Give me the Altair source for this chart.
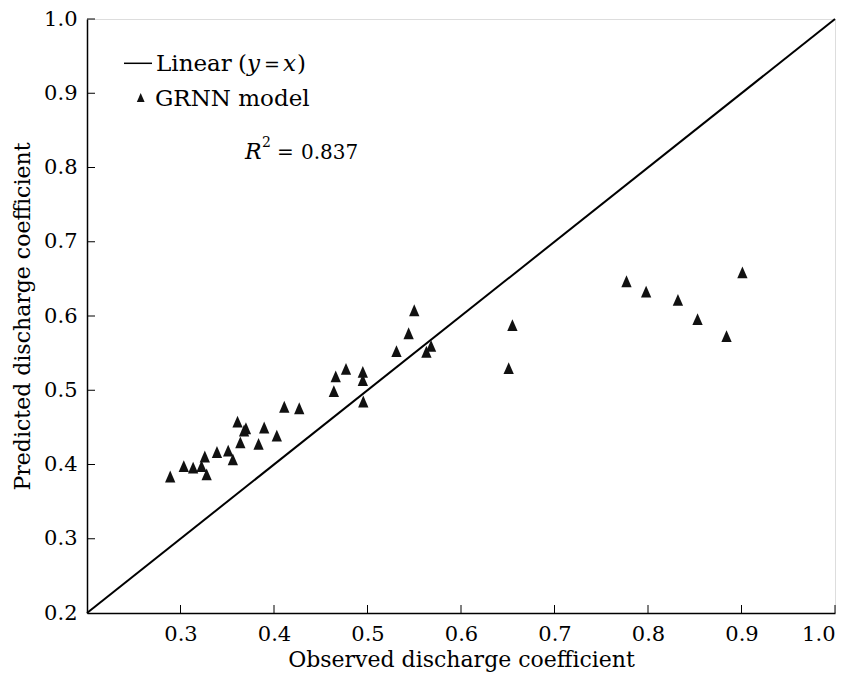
import altair as alt
import pandas as pd

SERIF = "DejaVu Serif"

observed = [0.289, 0.3035, 0.3135, 0.3225, 0.326, 0.328, 0.339, 0.351, 0.356, 0.361,
            0.364, 0.370, 0.368, 0.3835, 0.3895, 0.403, 0.411, 0.427, 0.464, 0.466,
            0.477, 0.495, 0.495, 0.4955, 0.531, 0.544, 0.550, 0.563, 0.568, 0.651,
            0.655, 0.777, 0.798, 0.832, 0.853, 0.884, 0.901]
predicted = [0.383, 0.397, 0.395, 0.397, 0.410, 0.386, 0.416, 0.418, 0.406, 0.457,
             0.429, 0.448, 0.445, 0.427, 0.449, 0.438, 0.477, 0.475, 0.498, 0.518,
             0.528, 0.524, 0.513, 0.484, 0.552, 0.576, 0.607, 0.551, 0.559, 0.529,
             0.587, 0.646, 0.632, 0.621, 0.595, 0.572, 0.658]

line_x = [0.2, 1.0]
line_y = [0.2, 1.0]

x_ticks = [0.3, 0.4, 0.5, 0.6, 0.7, 0.8, 0.9, 1.0]
y_ticks = [0.2, 0.3, 0.4, 0.5, 0.6, 0.7, 0.8, 0.9, 1.0]
inner_ticks = [0.3, 0.4, 0.5, 0.6, 0.7, 0.8, 0.9, 1.0]

x_title = "Observed discharge coefficient"
y_title = "Predicted discharge coefficient"

W, H = 748, 594
TRI = "M0,-1.1L-0.87,0.9L0.87,0.9Z"

xscale = alt.Scale(domain=[0.2, 1.0], nice=False, zero=False)
yscale = alt.Scale(domain=[0.2, 1.0], nice=False, zero=False)

xaxis = alt.Axis(values=x_ticks, format=".1f", ticks=False, labelPadding=10,
                 labelFont=SERIF, labelFontSize=21, labelColor="black",
                 titleFont=SERIF, titleFontSize=22, titleFontWeight="normal",
                 titleColor="black", titlePadding=5,
                 domainColor="black", domainWidth=1.5, grid=False)
yaxis = alt.Axis(values=y_ticks, format=".1f", ticks=False, labelPadding=10,
                 labelFont=SERIF, labelFontSize=21, labelColor="black",
                 titleFont=SERIF, titleFontSize=22, titleFontWeight="normal",
                 titleColor="black", titlePadding=9,
                 domainColor="black", domainWidth=1.5, grid=False)

pts = pd.DataFrame({"obs": observed, "pred": predicted})
line_df = pd.DataFrame({"obs": line_x, "pred": line_y})

scatter = alt.Chart(pts).mark_point(shape=TRI, filled=True, color="#111111",
                                    opacity=1, size=140).encode(
    x=alt.X("obs:Q", scale=xscale, axis=xaxis, title=x_title),
    y=alt.Y("pred:Q", scale=yscale, axis=yaxis, title=y_title),
)

line = alt.Chart(line_df).mark_line(color="black", strokeWidth=2).encode(
    x=alt.X("obs:Q", scale=xscale, title=x_title),
    y=alt.Y("pred:Q", scale=yscale, title=y_title),
)

xt = alt.Chart(pd.DataFrame({"obs": inner_ticks})).mark_rule(color="black", strokeWidth=1).encode(
    x=alt.X("obs:Q", scale=xscale, title=x_title),
    y=alt.value(H), y2=alt.value(H - 8),
)
yt = alt.Chart(pd.DataFrame({"pred": inner_ticks})).mark_rule(color="black", strokeWidth=1).encode(
    y=alt.Y("pred:Q", scale=yscale, title=y_title),
    x=alt.value(0), x2=alt.value(8),
)


def txt(s, x, y, size=23, style="normal"):
    return alt.Chart(pd.DataFrame({"t": [s]})).mark_text(
        align="left", baseline="alphabetic", font=SERIF, fontSize=size,
        fontStyle=style, color="black").encode(
        x=alt.value(x), y=alt.value(y), text="t:N")


leg_line = alt.Chart(pd.DataFrame({"a": [0]})).mark_rule(color="black", strokeWidth=1.5).encode(
    x=alt.value(37), x2=alt.value(65), y=alt.value(44.3))
leg_tri = alt.Chart(pd.DataFrame({"a": [0]})).mark_point(
    shape=TRI, filled=True, color="#111111", opacity=1, size=80).encode(
    x=alt.value(53.7), y=alt.value(79))

texts = [
    txt("Linear", 69, 52),
    txt("(", 151, 52),
    txt("y", 160, 52, style="italic"),
    txt("=", 177, 52, size=19),
    txt("x", 196, 52, style="italic"),
    txt(")", 210, 52),
    txt("GRNN model", 68, 87),
    txt("R", 158, 140, size=22, style="italic"),
    txt("2", 175, 128, size=14),
    txt("=", 190, 140, size=20),
    txt("0.837", 214, 140, size=20),
]

chart = alt.layer(line, xt, yt, scatter, leg_line, leg_tri, *texts).properties(
    width=W, height=H,
    autosize=alt.AutoSizeParams(type="none"),
    padding={"left": 79, "top": 11, "right": 10, "bottom": 60},
).configure_view(stroke=None).configure(background="white")

chart.save("out.html", embed_options={"renderer": "svg", "actions": False})
